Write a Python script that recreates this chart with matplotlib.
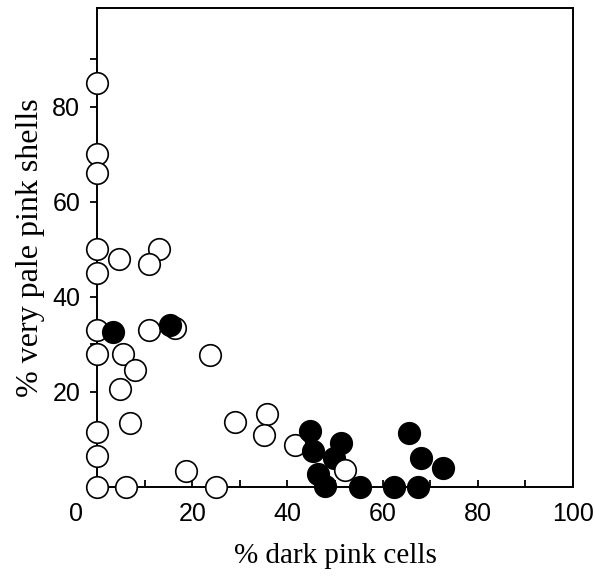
import matplotlib.pyplot as plt

# open circles: (% dark pink cells, % very pale pink shells)
open_x = [0, 0, 0, 0, 4.7, 13.0, 11.0, 0, 0, 11.0, 16.4, 0, 5.4, 23.8, 8.0,
          4.8, 6.9, 0, 0, 0, 6.0, 18.7, 25.0, 28.9, 35.7, 35.0, 41.7]
open_y = [85, 70, 66, 50, 48, 50, 47, 45, 33, 33, 33.4, 28, 28, 27.8, 24.6,
          20.6, 13.5, 11.6, 6.5, 0, 0, 3.4, 0, 13.7, 15.4, 10.9, 8.8]

# filled circles
filled_x = [3.4, 15.4, 44.8, 45.4, 51.2, 49.7, 46.4, 48.0, 55.2, 62.4,
            65.5, 68.1, 72.7, 67.5]
filled_y = [32.7, 34.1, 11.8, 7.6, 9.2, 6.2, 2.8, 0.2, 0, 0,
            11.4, 6.0, 4.0, 0]

# open circle lying over the filled cluster
top_x = [52.1]
top_y = [3.5]

fig = plt.figure(figsize=(5.95, 5.76), dpi=100)
ax = fig.add_axes([97 / 595, 89 / 576, 476 / 595, 479 / 576])

ms = 15.5
ax.plot(open_x, open_y, 'o', ms=ms, mfc='white', mec='black', mew=1.2,
        clip_on=False, zorder=3)
ax.plot(filled_x, filled_y, 'o', ms=ms, mfc='black', mec='black', mew=1.2,
        clip_on=False, zorder=4)
ax.plot(top_x, top_y, 'o', ms=ms, mfc='white', mec='black', mew=1.2,
        clip_on=False, zorder=5)

ax.set_xlim(0, 100)
ax.set_ylim(0, 100.8)

for s in ax.spines.values():
    s.set_linewidth(1.4)

ax.set_xticks(range(10, 101, 10))
ax.set_xticklabels(['' if v % 20 else str(v) for v in range(10, 101, 10)])
ax.set_yticks(range(10, 91, 10))
ax.set_yticklabels(['' if v % 20 else str(v) for v in range(10, 91, 10)])

for lab in ax.get_xticklabels() + ax.get_yticklabels():
    lab.set_fontfamily('Liberation Sans')
    lab.set_fontsize(18)

ax.tick_params(axis='x', direction='in', length=5, width=1.3, pad=11)
ax.tick_params(axis='y', direction='out', length=5, width=1.3, pad=7)

# shared origin label
ax.annotate('0', xy=(0, 0), xytext=(-15, -11), textcoords='offset points',
            ha='center', va='top', family='Liberation Sans', size=18)

ax.set_xlabel('% dark pink cells', family='Liberation Serif', size=21,
              labelpad=12)
ax.set_ylabel('% very pale pink shells', family='Liberation Serif', size=23,
              labelpad=5)

fig.savefig('out.png', dpi=100)
